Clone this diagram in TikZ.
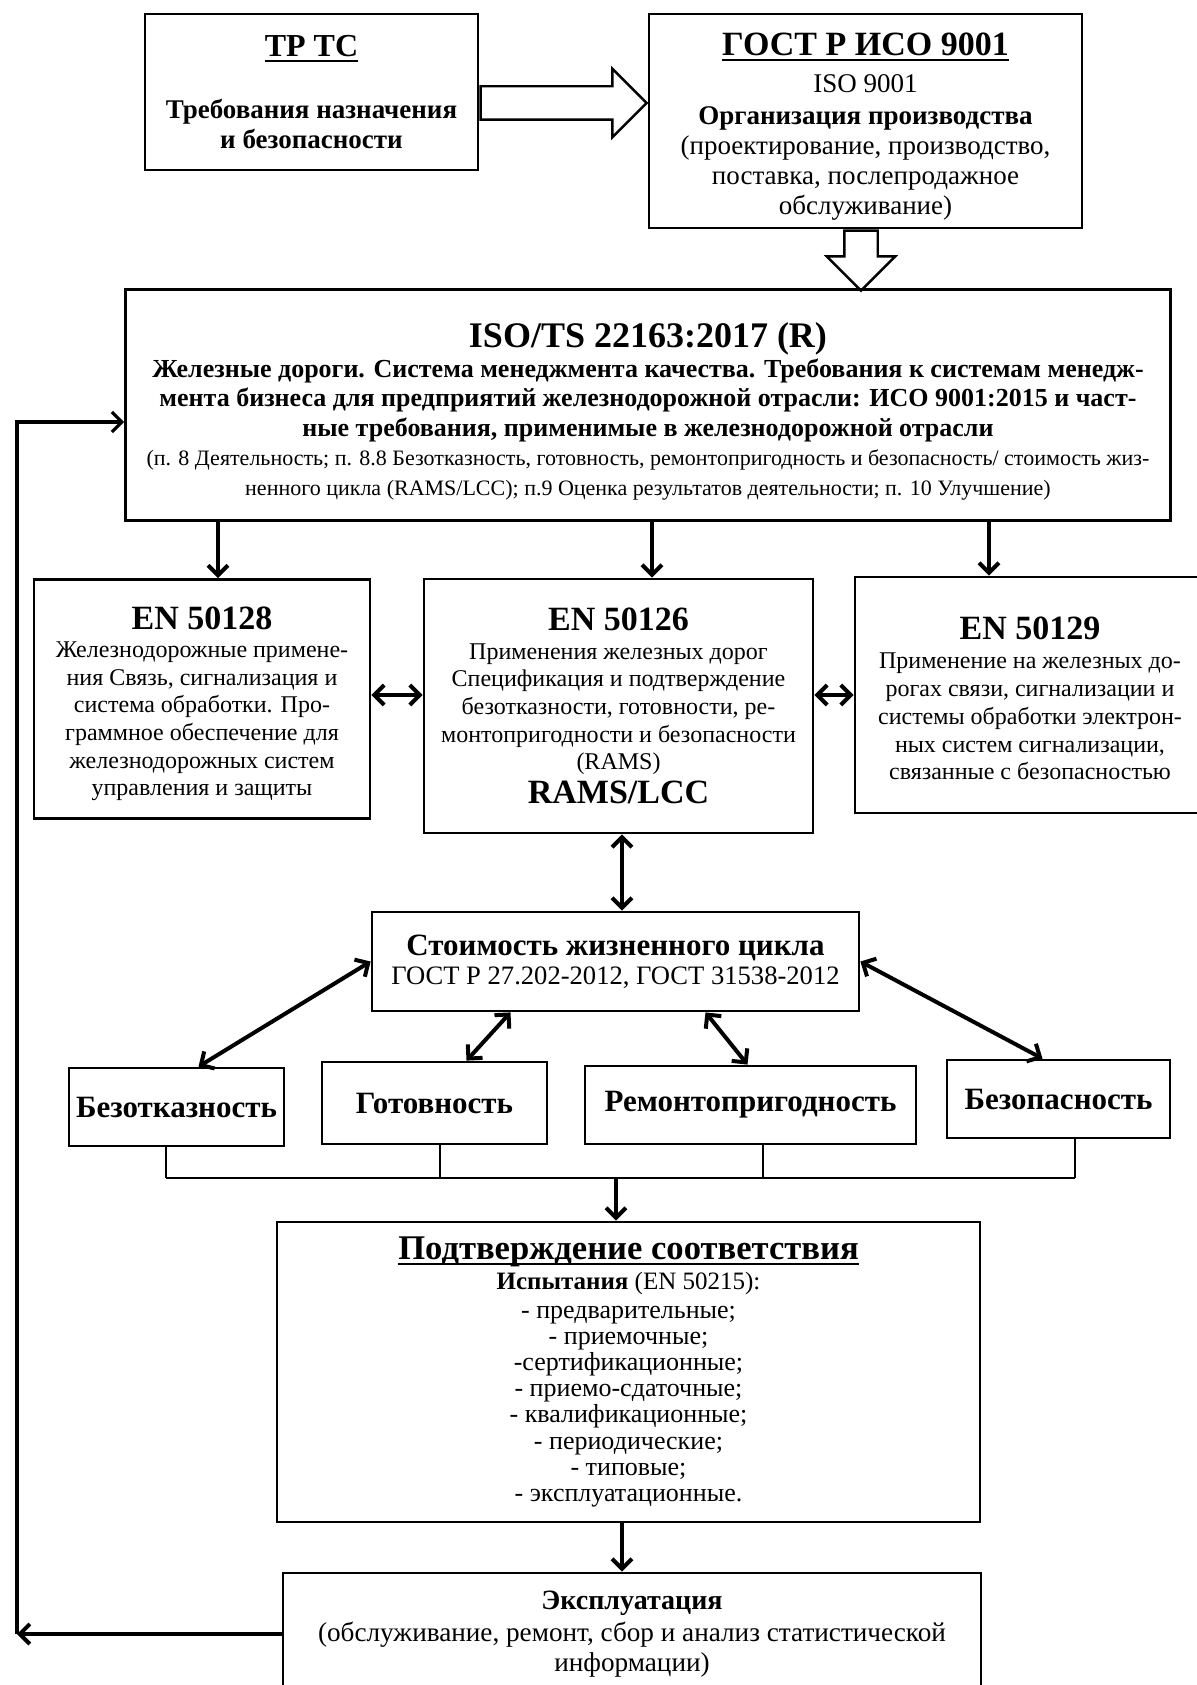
\documentclass[tikz,border=0pt]{standalone}
\usepackage{fontspec}
\setmainfont{Liberation Serif}
\usetikzlibrary{arrows.meta,shapes.arrows,calc}
\newcommand\fsz[2]{\fontsize{#1}{#2}\selectfont}
\newcommand\undl[1]{\setbox0\hbox{#1}\rlap{\raisebox{-2.6pt}{\rule{\wd0}{1pt}}}\box0}

\begin{document}
\begin{tikzpicture}[x=0.5pt,y=-0.5pt,
    box/.style={draw,line width=1.4pt,align=center,inner sep=0pt},
    hollow/.style={single arrow,draw,line width=1.2pt,inner xsep=0pt,inner ysep=7.75pt,
        single arrow head extend=8.75pt,single arrow tip angle=90},
    arr/.style={line width=2pt,-{Straight Barb[length=5pt,width=10pt]}},
    dbl/.style={line width=2pt,{Straight Barb[length=5pt,width=10pt]}-{Straight Barb[length=5pt,width=10pt]}},
    bus/.style={line width=1.4pt}]
    \useasboundingbox (0,0) rectangle (1197,1685);
    \clip (0,0) rectangle (1197,1685);
    % Top row
    \node[box,minimum width=166.5pt,minimum height=78pt,font=\bfseries\fsz{13.5}{15}] (trtc) at (311.5,92)
        {{\fsz{16}{19}\undl{ТР ТС}}\\[16pt]Требования назначения\\и безопасности};
    \node[box,minimum width=216.5pt,minimum height=107pt,font=\fsz{13.5}{15}] (gost) at (865.5,121)
        {{\bfseries\fsz{17}{19}\rule{0pt}{17pt}\undl{ГОСТ Р ИСО 9001}}\\[3.5pt]ISO 9001\\[1pt]\textbf{Организация производства}\\
         (проектирование, производство,\\поставка, послепродажное\\обслуживание)};
    \node[hollow,anchor=tail,minimum height=83pt] (toGost) at (trtc.east |- 0,103) {};
    \node[hollow,anchor=tail,minimum height=30pt,rotate=-90] (toIso) at (gost.south -| 861,0) {};
    % Quality system
    \node[box,minimum width=522.5pt,minimum height=115.5pt,font=\bfseries\fsz{13}{14.75}] (isots) at (648,405)
        {{\fsz{18}{20}\rule{0pt}{19pt}ISO/TS 22163:2017 (R)}\\
         Железные дороги. Система менеджмента качества. Требования к системам менедж-\\
         мента бизнеса для предприятий железнодорожной отрасли: ИСО 9001:2015 и част-\\
         ные требования, применимые в железнодорожной отрасли\\
         {\mdseries\fsz{11}{13}(п. 8 Деятельность; п. 8.8 Безотказность, готовность, ремонтопригодность и безопасность/ стоимость жиз-}\\
         {\mdseries\fsz{11}{13}ненного цикла (RAMS/LCC); п.9 Оценка результатов деятельности; п. 10 Улучшение)}};
    % Standards
    \node[box,minimum width=168pt,minimum height=119.5pt,font=\fsz{12}{13.8}] (en28) at (202,699)
        {{\bfseries\fsz{17}{19}\rule{0pt}{16pt}EN 50128}\\[0.5pt]Железнодорожные примене-\\ния Связь, сигнализация и\\
         система обработки. Про-\\граммное обеспечение для\\железнодорожных систем\\управления и защиты};
    \node[box,minimum width=194.5pt,minimum height=127pt,font=\fsz{12}{13.8}] (en26) at (618.5,706)
        {{\bfseries\fsz{17}{19}EN 50126}\\[0.5pt]Применения железных дорог\\Спецификация и подтверждение\\
         безотказности, готовности, ре-\\монтопригодности и безопасности\\(RAMS)\\[2.2pt]
         {\bfseries\fsz{17}{19}RAMS/LCC}};
    \node[box,minimum width=175pt,minimum height=118pt,font=\fsz{12}{13.9}] (en29) at (1030,695)
        {{\bfseries\fsz{17}{19}\rule{0pt}{15pt}EN 50129}\\[0.5pt]Применение на железных до-\\рогах связи, сигнализации и\\
         системы обработки электрон-\\ных систем сигнализации,\\связанные с безопасностью};
    % Life cycle cost
    \node[box,minimum width=243.5pt,minimum height=49.5pt,font=\fsz{13.3}{14.5}] (lcc) at (615.5,961.5)
        {{\bfseries\fsz{15.5}{17}Стоимость жизненного цикла}\\ГОСТ Р 27.202-2012, ГОСТ 31538-2012};
    \node[box,minimum width=107.5pt,minimum height=39pt,font=\bfseries\fsz{15.5}{17}] (bez) at (176.5,1107) {Безотказность};
    \node[box,minimum width=112.5pt,minimum height=41pt,font=\bfseries\fsz{15.5}{17}] (gotov) at (434.5,1103) {Готовность};
    \node[box,minimum width=165.5pt,minimum height=39pt,font=\bfseries\fsz{15.5}{17}] (remont) at (750.5,1105) {Ремонтопригодность};
    \node[box,minimum width=111.5pt,minimum height=39pt,font=\bfseries\fsz{15.5}{17}] (bezop) at (1058.5,1099) {Безопасность};
    % Conformity and operation
    \node[box,minimum width=351.5pt,minimum height=150pt,font=\fsz{13}{13.1}] (conf) at (628.5,1372)
        {{\bfseries\fsz{17.3}{19}\undl{Подтверждение соответствия}}\\[2pt]
         {\fsz{12.5}{13}\textbf{Испытания} (EN 50215):}\\[1pt]
         - предварительные;\\- приемочные;\\-сертификационные;\\- приемо-сдаточные;\\
         - квалификационные;\\- периодические;\\- типовые;\\- эксплуатационные.};
    \node[box,minimum width=349pt,minimum height=61pt,font=\fsz{13.6}{15}] (expl) at (632,1634)
        {{\bfseries\fsz{14}{16}Эксплуатация}\\[1pt](обслуживание, ремонт, сбор и анализ статистической\\информации)};
    % Connectors
    \draw[arr] (isots.south -| 218,0) -- (en28.north -| 218,0);
    \draw[arr] (isots.south -| 652,0) -- (en26.north -| 652,0);
    \draw[arr] (isots.south -| 989,0) -- (en29.north -| 989,0);
    \draw[dbl] (en28.east |- 0,695) -- (en26.west |- 0,695);
    \draw[dbl] (en26.east |- en29.west) -- (en29.west);
    \draw[dbl] (en26.south -| 622,0) -- (lcc.north -| 622,0);
    \draw[dbl] (lcc.west) -- ($(bez.north)+(22,0)$);
    \draw[dbl] ($(lcc.south)+(-105,0)$) -- ($(gotov.north)+(32,0)$);
    \draw[dbl] ($(lcc.south)+(90,0)$) -- ($(remont.north)+(-3,0)$);
    \draw[dbl] (lcc.east) -- ($(bezop.north)+(-16,0)$);
    \coordinate (bus) at (616,1178);
    \draw[bus] (bez.south -| 166,0) -- (bus -| 166,0);
    \draw[bus] (gotov.south -| 440,0) -- (bus -| 440,0);
    \draw[bus] (remont.south -| 763,0) -- (bus -| 763,0);
    \draw[bus] (bezop.south -| 1075,0) -- (bus -| 1075,0);
    \draw[bus] (bus -| 166,0) -- (bus -| 1075,0);
    \draw[arr] (bus) -- (bus |- conf.north);
    \draw[arr] (conf.south -| 622,0) -- (expl.north -| 622,0);
    % Feedback loop
    \coordinate (fb) at (17,1634);
    \coordinate (fbtop) at (17,422);
    \draw[arr] (expl.west) -- (fb);
    \draw[arr,line width=1.6pt] (fb) -- (fbtop) -- (isots.west |- fbtop);
\end{tikzpicture}
\end{document}
